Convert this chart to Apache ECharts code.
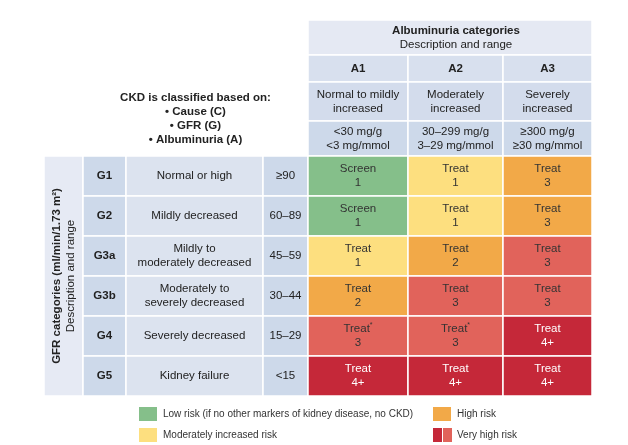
<!DOCTYPE html>
<html><head><meta charset="utf-8">
<script src="https://cdn.jsdelivr.net/npm/echarts@6/dist/echarts.min.js"></script>
<style>html,body{margin:0;padding:0;background:#fff}#c{width:628px;height:445px}</style>
</head><body><div id="c"></div>
<script>
// ---- data ----
const albTitle = 'Albuminuria categories';
const albSub = 'Description and range';
const albCats = ['A1', 'A2', 'A3'];
const albDesc = ['Normal to mildly\nincreased', 'Moderately\nincreased', 'Severely\nincreased'];
const albRange = ['<30 mg/g\n<3 mg/mmol', '30–299 mg/g\n3–29 mg/mmol', '≥300 mg/g\n≥30 mg/mmol'];
const gfrTitle = 'GFR categories (ml/min/1.73 m²)';
const gfrSub = 'Description and range';
const gfrCats = ['G1', 'G2', 'G3a', 'G3b', 'G4', 'G5'];
const gfrDesc = ['Normal or high', 'Mildly decreased', 'Mildly to\nmoderately decreased', 'Moderately to\nseverely decreased', 'Severely decreased', 'Kidney failure'];
const gfrRange = ['≥90', '60–89', '45–59', '30–44', '15–29', '<15'];
const ckdText = ['CKD is classified based on:', '• Cause (C)', '• GFR (G)', '• Albuminuria (A)'];
const riskLevel = [[0, 1, 2], [0, 1, 2], [1, 2, 3], [2, 3, 3], [3, 3, 4], [4, 4, 4]];
const actions = [['Screen', 'Treat', 'Treat'], ['Screen', 'Treat', 'Treat'], ['Treat', 'Treat', 'Treat'], ['Treat', 'Treat', 'Treat'], ['Treat*', 'Treat*', 'Treat'], ['Treat', 'Treat', 'Treat']];
const visits = [['1', '1', '3'], ['1', '1', '3'], ['1', '2', '3'], ['2', '3', '3'], ['3', '3', '4+'], ['4+', '4+', '4+']];
const riskNames = ['Low risk (if no other markers of kidney disease, no CKD)', 'Moderately increased risk', 'High risk', 'Very high risk'];

// ---- layout / style ----
const colWidths = [39, 43, 137, 45, 100, 95, 89];
const rowHeights = [35, 27, 39, 35, 40, 40, 40, 40, 40, 40];
const colEdge = [0]; colWidths.forEach(w => colEdge.push(colEdge[colEdge.length - 1] + w));
const rowEdge = [0]; rowHeights.forEach(h => rowEdge.push(rowEdge[rowEdge.length - 1] + h));
const riskColors = ['#85bf8a', '#fddf7f', '#f2a948', '#e1635b', '#c52839'];
const riskText = ['#333', '#333', '#333', '#333', '#fff'];
const FONT = "'Liberation Sans', Arial, Helvetica, sans-serif";
const FS = 11.5;

function rt(style, s) { return s.split('\n').map(l => '{' + style + '|' + l + '}').join('\n'); }
function actionText(a) { return a.endsWith('*') ? '{n|' + a.slice(0, -1) + '}{s|*}' : '{n|' + a + '}'; }

const cells = [];
// top header
cells.push({ c: 4, r: 0, cs: 3, rs: 1, fill: '#e5e9f3', text: rt('b', albTitle) + '\n' + rt('n', albSub), dx: 6 });
albCats.forEach((a, i) => {
  cells.push({ c: 4 + i, r: 1, cs: 1, rs: 1, fill: '#d8e0ee', text: rt('b', a) });
  cells.push({ c: 4 + i, r: 2, cs: 1, rs: 1, fill: '#d3dcec', text: rt('n', albDesc[i]) });
  cells.push({ c: 4 + i, r: 3, cs: 1, rs: 1, fill: '#cdd9ea', text: rt('n', albRange[i]) });
});
// CKD text
cells.push({ c: 1, r: 2, cs: 3, rs: 2, fill: null, text: ckdText.map(t => '{b|' + t + '}').join('\n') });
// left header
cells.push({ c: 0, r: 4, cs: 1, rs: 6, fill: '#e6eaf4', text: rt('b', gfrTitle) + '\n' + rt('n', gfrSub), rot: Math.PI / 2 });
gfrCats.forEach((g, j) => {
  cells.push({ c: 1, r: 4 + j, cs: 1, rs: 1, fill: '#cdd9ea', text: rt('b', g) });
  cells.push({ c: 2, r: 4 + j, cs: 1, rs: 1, fill: '#dce3ef', text: rt('n', gfrDesc[j]) });
  cells.push({ c: 3, r: 4 + j, cs: 1, rs: 1, fill: '#cdd9ea', text: rt('n', gfrRange[j]) });
  albCats.forEach((a, i) => {
    const lv = riskLevel[j][i];
    cells.push({ c: 4 + i, r: 4 + j, cs: 1, rs: 1, fill: riskColors[lv], color: riskText[lv],
      text: actionText(actions[j][i]) + '\n{n|' + visits[j][i] + '}' });
  });
});

const rich = {
  b: { fontFamily: FONT, fontSize: FS, fontWeight: 'bold', lineHeight: 14 },
  n: { fontFamily: FONT, fontSize: FS, lineHeight: 14 },
  s: { fontFamily: FONT, fontSize: 7, lineHeight: 14, verticalAlign: 'top', padding: [0, 0, 4, 0] }
};

function renderItem(params, api) {
  const cell = cells[params.dataIndex];
  const p0 = api.coord([colEdge[cell.c], rowEdge[cell.r]]);
  const p1 = api.coord([colEdge[cell.c + cell.cs], rowEdge[cell.r + cell.rs]]);
  const children = [];
  if (cell.fill) {
    children.push({ type: 'rect', shape: { x: p0[0], y: p0[1], width: p1[0] - p0[0], height: p1[1] - p0[1] },
      style: { fill: cell.fill, stroke: '#fff', lineWidth: 1.5 } });
  }
  children.push({ type: 'text', x: (p0[0] + p1[0]) / 2 + (cell.dx || 0), y: (p0[1] + p1[1]) / 2, rotation: cell.rot || 0,
    style: { text: cell.text, rich: rich, align: 'center', verticalAlign: 'middle', fill: cell.color || '#222', font: FS + 'px ' + FONT } });
  return { type: 'group', children: children };
}

// legend
const legendItems = [
  { x: 139, y: 407, colors: [riskColors[0]], label: riskNames[0] },
  { x: 139, y: 428, colors: [riskColors[1]], label: riskNames[1] },
  { x: 433, y: 407, colors: [riskColors[2]], label: riskNames[2] },
  { x: 433, y: 428, colors: [riskColors[4], riskColors[3]], label: riskNames[3] }
];
const graphic = [];
legendItems.forEach(it => {
  if (it.colors.length === 1) {
    graphic.push({ type: 'rect', shape: { x: it.x, y: it.y, width: 18, height: 14 }, style: { fill: it.colors[0] } });
  } else {
    graphic.push({ type: 'rect', shape: { x: it.x, y: it.y, width: 9, height: 14 }, style: { fill: it.colors[0] } });
    graphic.push({ type: 'rect', shape: { x: it.x + 10, y: it.y, width: 9, height: 14 }, style: { fill: it.colors[1] } });
  }
  graphic.push({ type: 'text', x: it.x + 24, y: it.y + 7, style: { text: it.label, fill: '#333', font: '10px ' + FONT, verticalAlign: 'middle' } });
});

const chart = echarts.init(document.getElementById('c'));
chart.setOption({
  animation: false,
  grid: { left: 44, top: 20, width: 548, height: 376 },
  xAxis: { type: 'value', min: 0, max: colEdge[colEdge.length - 1], show: false },
  yAxis: { type: 'value', min: 0, max: rowEdge[rowEdge.length - 1], inverse: true, show: false },
  series: [{ type: 'custom', renderItem: renderItem, data: cells.map(c => [colEdge[c.c], rowEdge[c.r]]), silent: true }],
  graphic: graphic
});
</script></body></html>
